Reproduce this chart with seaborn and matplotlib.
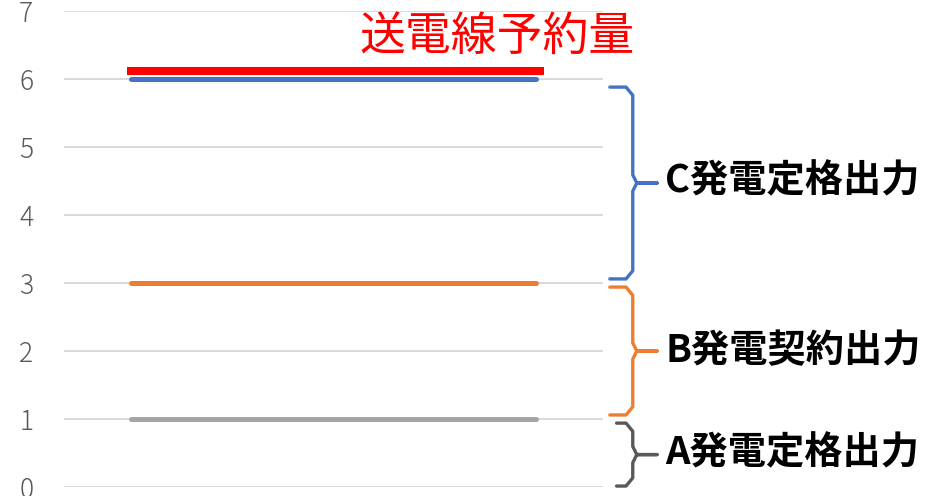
import numpy as np
import pandas as pd
import seaborn as sns
import matplotlib.pyplot as plt

# chart values
positions = [0, 1, 2, 3]
a_rated = [1, 1, 1, 1]        # A発電定格出力
b_contract = [3, 3, 3, 3]     # B発電契約出力
c_rated = [6, 6, 6, 6]        # C発電定格出力
reserve_x = [-0.03, 3.06]
reserve = [6.12, 6.12]        # 送電線予約量
y_ticks = [0, 1, 2, 3, 4, 5, 6, 7]

series_names = ["A", "B", "C"]
series_colors = {"A": "#A5A5A5", "B": "#ED7D31", "C": "#4472C4"}
brace_colors = {"A": "#595959", "B": "#ED7D31", "C": "#4472C4"}
labels = {"A": "A発電定格出力", "B": "B発電契約出力", "C": "C発電定格出力"}

df = pd.DataFrame({
    "x": positions * 3,
    "y": a_rated + b_contract + c_rated,
    "series": ["A"] * 4 + ["B"] * 4 + ["C"] * 4,
})

sns.set_theme(style="white")
plt.rcParams["font.family"] = ["Noto Sans CJK JP", "DejaVu Sans"]

fig = plt.figure(figsize=(9.25, 4.96), dpi=100)
ax = fig.add_axes([0.069, 0.018, 0.583, 0.96])

for name in series_names:
    sub = df[df["series"] == name]
    sns.lineplot(data=sub, x="x", y="y", color=series_colors[name], lw=3.6,
                 ax=ax, legend=False, solid_capstyle="round", zorder=3)

sns.lineplot(x=reserve_x, y=reserve, color="#FF0000", lw=5.8, ax=ax,
             legend=False, solid_capstyle="butt", zorder=4)

ax.set_xlim(-0.5, 3.5)
ax.set_ylim(0, 7)
ax.set_yticks(y_ticks)
ax.set_xticks([])
ax.set_xlabel("")
ax.set_ylabel("")
ax.yaxis.grid(True, color="#D9D9D9", lw=1.4)
ax.set_axisbelow(True)
for s in ax.spines.values():
    s.set_visible(False)
ax.tick_params(axis="y", length=0, pad=22, labelsize=19, labelcolor="#595959")
for t in ax.get_yticklabels():
    t.set_fontweight("light")

ax.text(2.71, 6.63, "送電線予約量", color="#FF0000", fontsize=33,
        ha="center", va="center")


def brace(ax, top, bottom, x0, x1, tip, color):
    mid = (top + bottom) / 2
    r = 0.12
    xs = [x0, x1 - 0.05, x1, x1, x1 + 0.03, tip, x1 + 0.03, x1, x1, x1 - 0.05, x0]
    ys = [top, top, top - r, mid + r, mid, mid, mid, mid - r, bottom + r, bottom, bottom]
    ax.plot(xs, ys, color=color, lw=2.4, clip_on=False, solid_joinstyle="round",
            solid_capstyle="round")


groups = [("C", 3, 6), ("B", 1, 3), ("A", 0, 1)]
for name, lo, hi in groups:
    gap = 0.06 if name != "A" else 0.015
    x0 = 3.55 if name != "A" else 3.6
    brace(ax, hi - (0.12 if name == "C" else 0.06), lo + gap, x0, 3.72, 3.9,
          brace_colors[name])
    ax.text(3.96, (lo + hi) / 2, labels[name], fontsize=27.5, fontweight="bold",
            color="black", ha="left", va="center")

fig.savefig("out.png", dpi=100)
